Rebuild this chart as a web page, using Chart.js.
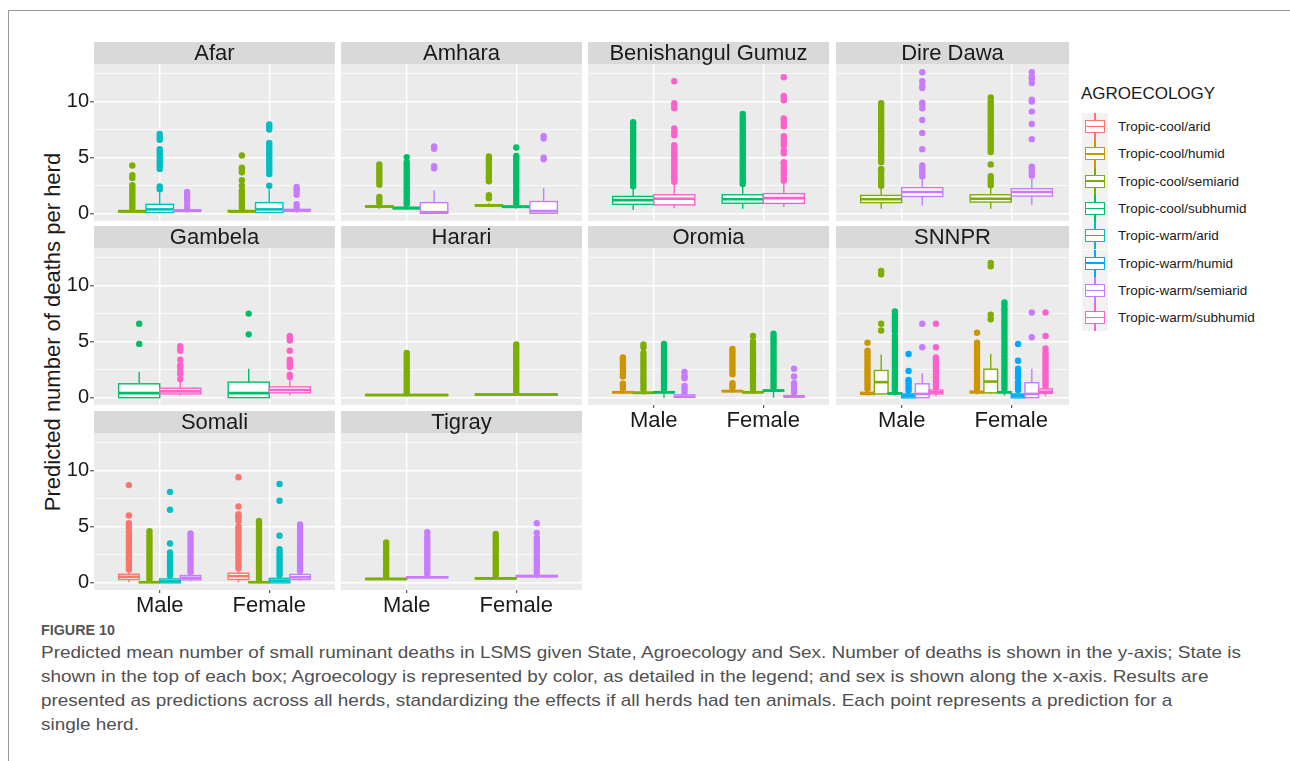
<!DOCTYPE html>
<html>
<head>
<meta charset="utf-8">
<script src="https://cdn.jsdelivr.net/npm/chart.js@4.4.0/dist/chart.umd.min.js"></script>
<style>
body { margin: 0; background: #fff; font-family: "Liberation Sans", Arial, sans-serif; }
#page { position: relative; width: 1290px; height: 761px; overflow: hidden; }
#frame { position: absolute; left: 8px; top: 10px; width: 1400px; height: 900px; border-left: 1px solid #9a9a9a; border-top: 1px solid #9a9a9a; }
#page canvas { position: absolute; }
#ytitle { position: absolute; left: 53px; top: 332px; transform: translate(-50%, -50%) rotate(-90deg); font-size: 22px; white-space: nowrap; color: #1a1a1a; }
.ltitle { position: absolute; left: 1081px; top: 84px; font-size: 17px; color: #1a1a1a; }
.key { position: absolute; left: 1082px; width: 26px; height: 27.3px; background: #f2f2f2; }
.wh { position: absolute; left: 12.3px; width: 1.4px; top: 0; bottom: 0; }
.bx { position: absolute; left: 2.5px; width: 18px; top: 7px; height: 11px; border: 1.4px solid; background: #fff; }
.md { position: absolute; left: 0; right: 0; top: 50%; height: 1.6px; margin-top: -0.8px; }
.lab { position: absolute; left: 1118px; height: 27.3px; line-height: 27.3px; font-size: 13.5px; color: #1a1a1a; white-space: nowrap; }
#cap { position: absolute; left: 41px; top: 620px; }
#cap div { white-space: nowrap; transform-origin: 0 50%; width: max-content; }
.fig { font-weight: bold; font-size: 14px; color: #555; height: 21px; line-height: 21px; }
.cl { font-size: 17px; line-height: 24px; height: 24px; color: #505050; }
</style>
</head>
<body>
<div id="page">
  <div id="frame"></div>
  <div id="ytitle">Predicted number of deaths per herd</div>
  <div id="legend"><div class="ltitle">AGROECOLOGY</div></div>
  <div id="cap">
    <div class="fig">FIGURE 10</div>
    <div class="cl">Predicted mean number of small ruminant deaths in LSMS given State, Agroecology and Sex. Number of deaths is shown in the y-axis; State is</div>
    <div class="cl">shown in the top of each box; Agroecology is represented by color, as detailed in the legend; and sex is shown along the x-axis. Results are</div>
    <div class="cl">presented as predictions across all herds, standardizing the effects if all herds had ten animals. Each point represents a prediction for a</div>
    <div class="cl">single herd.</div>
  </div>
</div>
<script>
Chart.defaults.font.family = '"Liberation Sans", Arial, sans-serif';
Chart.defaults.color = '#1a1a1a';

const sexes = ['Male', 'Female'];
const agroecologies = ['Tropic-cool/arid', 'Tropic-cool/humid', 'Tropic-cool/semiarid', 'Tropic-cool/subhumid',
    'Tropic-warm/arid', 'Tropic-warm/humid', 'Tropic-warm/semiarid', 'Tropic-warm/subhumid'];
const agroColors = ['#F8766D', '#CD9600', '#7CAE00', '#00BE67', '#00BFC4', '#00A9FF', '#C77CFF', '#FF61CC'];
const states = ['Afar', 'Amhara', 'Benishangul Gumuz', 'Dire Dawa', 'Gambela', 'Harari', 'Oromia', 'SNNPR', 'Somali', 'Tigray'];
const yTicks = [0, 5, 10];
const yMinorTicks = [2.5, 7.5, 12.5];

// [agroecology, sex, lower whisker, q1, median, q3, upper whisker, outliers]
const afar = [
    [2, 0, 0.1, 0.17, 0.22, 0.3, 0.45, [0.55,0.8,1.05,1.3,1.55,1.8,2.05,2.3,2.55,3.2,3.45,4.3]],
    [4, 0, 0.05, 0.12, 0.4, 0.85, 2.05, [2.2,2.45,4.0,4.25,4.5,4.75,5.0,5.25,5.5,5.75,6.6,6.85,7.1]],
    [6, 0, 0.1, 0.22, 0.28, 0.36, 0.45, [0.55,0.8,1.2,1.45,1.7,1.95]],
    [2, 1, 0.1, 0.17, 0.22, 0.3, 0.45, [0.55,0.8,1.05,1.3,1.55,1.8,2.05,2.5,3.0,3.7,3.95,4.1,5.2]],
    [4, 1, 0.05, 0.12, 0.4, 1.0, 2.2, [2.5,3.55,3.8,4.05,4.3,4.55,4.8,5.05,5.3,5.55,5.8,6.05,6.3,7.5,7.75,7.95]],
    [6, 1, 0.1, 0.25, 0.3, 0.4, 0.5, [0.6,0.85,1.7,1.95,2.2,2.4]]
];
const amhara = [
    [2, 0, 0.45, 0.6, 0.65, 0.72, 0.85, [1.0,1.25,1.5,2.6,2.85,3.1,3.35,3.6,3.85,4.1,4.4]],
    [3, 0, 0.35, 0.45, 0.52, 0.58, 0.75, [0.85,1.1,1.35,1.6,1.85,2.1,2.35,2.6,2.85,3.1,3.35,3.6,3.85,4.1,4.35,4.6,5.05]],
    [6, 0, 0.0, 0.05, 0.15, 1.0, 2.1, [4.05,4.25,5.8,6.0]],
    [2, 1, 0.6, 0.7, 0.75, 0.8, 0.95, [1.4,1.65,2.9,3.15,3.4,3.65,3.9,4.15,4.4,4.65,4.9,5.1]],
    [3, 1, 0.45, 0.58, 0.63, 0.7, 0.85, [0.95,1.2,1.45,1.7,1.95,2.2,2.45,2.7,2.95,3.2,3.45,3.7,3.95,4.2,4.45,4.7,4.95,5.15,5.9]],
    [6, 1, 0.0, 0.05, 0.25, 1.1, 2.3, [4.85,5.0,6.7,6.9]]
];
const benishangul = [
    [3, 0, 0.35, 0.85, 1.22, 1.55, 2.3, [2.45,2.7,2.95,3.2,3.45,3.7,3.95,4.2,4.45,4.7,4.95,5.2,5.45,5.7,5.95,6.2,6.45,6.7,6.95,7.2,7.45,7.7,7.95,8.15]],
    [7, 0, 0.5, 0.8, 1.35, 1.7, 2.7, [2.85,3.1,3.35,3.6,3.85,4.1,4.35,4.6,4.85,5.1,5.35,5.6,5.85,6.1,7.0,7.25,7.6,9.4,9.6,9.85,11.8]],
    [3, 1, 0.45, 0.95, 1.3, 1.7, 2.5, [2.65,2.9,3.15,3.4,3.65,3.9,4.15,4.4,4.65,4.9,5.15,5.4,5.65,5.9,6.15,6.4,6.65,6.9,7.15,7.4,7.65,7.9,8.15,8.4,8.65,8.9]],
    [7, 1, 0.6, 0.93, 1.4, 1.8, 2.8, [2.95,3.2,3.45,3.7,3.95,4.2,4.45,4.6,5.4,5.65,6.1,6.35,6.6,6.9,7.8,8.05,8.3,8.5,10.1,10.3,10.5,12.15]]
];
const direDawa = [
    [2, 0, 0.45, 1.0, 1.3, 1.64, 2.4, [2.5,2.75,3.0,3.3,3.65,3.9,4.0,4.6,4.85,5.1,5.35,5.6,5.85,6.1,6.35,6.6,6.85,7.1,7.35,7.6,7.85,8.1,8.35,8.6,8.85,9.1,9.35,9.6,9.85]],
    [6, 0, 0.75, 1.55, 1.95, 2.33, 3.2, [3.35,3.6,3.85,4.1,4.3,5.76,7.2,8.35,9.4,9.75,9.9,11.2,11.4,11.8,12.6]],
    [2, 1, 0.45, 1.05, 1.35, 1.7, 2.4, [2.55,2.8,3.05,3.35,4.4,5.5,5.75,6.0,6.25,6.5,6.75,7.0,7.25,7.5,7.75,8.0,8.25,8.5,8.75,9.0,9.25,9.5,9.75,10.0,10.35]],
    [6, 1, 0.8, 1.58, 1.95, 2.24, 3.1, [3.4,3.65,3.9,4.2,6.65,8.0,9.1,10.0,10.15,11.65,12.0,12.15,12.6]]
];
const gambela = [
    [3, 0, 0.0, 0.02, 0.42, 1.25, 2.3, [4.8,6.6]],
    [7, 0, 0.2, 0.35, 0.58, 0.86, 1.45, [1.65,2.1,2.35,2.7,2.9,3.4,4.2,4.4,4.6]],
    [3, 1, 0.0, 0.02, 0.42, 1.4, 2.6, [5.65,7.5]],
    [7, 1, 0.2, 0.45, 0.7, 0.98, 1.6, [1.85,2.05,2.75,2.95,3.2,3.4,4.2,5.1,5.3,5.5]]
];
const harari = [
    [2, 0, 0.15, 0.2, 0.25, 0.3, 0.4, [0.5,0.75,1.0,1.25,1.5,1.75,2.0,2.25,2.5,2.75,3.0,3.25,3.5,3.75,4.0]],
    [2, 1, 0.2, 0.25, 0.3, 0.35, 0.45, [0.55,0.8,1.05,1.3,1.55,1.8,2.05,2.3,2.55,2.8,3.05,3.3,3.55,3.8,4.05,4.3,4.55,4.75]]
];
const oromia = [
    [1, 0, 0.35, 0.45, 0.5, 0.55, 0.7, [0.8,1.05,1.25,1.9,2.15,2.4,2.65,2.9,3.15,3.4,3.6]],
    [2, 0, 0.3, 0.4, 0.45, 0.5, 0.65, [0.75,1.0,1.25,1.5,1.75,2.0,2.25,2.5,2.75,3.0,3.25,3.5,3.75,4.0,4.5,4.75]],
    [3, 0, 0.0, 0.45, 0.5, 0.55, 0.7, [0.8,1.05,1.3,1.55,1.8,2.05,2.3,2.55,2.8,3.05,3.3,3.55,3.8,4.05,4.3,4.55,4.8]],
    [6, 0, 0.0, 0.05, 0.1, 0.27, 0.45, [0.55,0.8,1.05,1.75,1.95,2.3]],
    [1, 1, 0.45, 0.55, 0.6, 0.65, 0.8, [0.9,1.1,1.3,2.1,2.35,2.6,2.85,3.1,3.35,3.6,3.85,4.1,4.35]],
    [2, 1, 0.35, 0.45, 0.5, 0.55, 0.7, [0.8,1.05,1.3,1.55,1.8,2.05,2.3,2.55,2.8,3.05,3.3,3.55,3.8,4.05,4.3,4.55,4.8,5.0,5.5]],
    [3, 1, 0.0, 0.6, 0.65, 0.7, 0.85, [0.95,1.2,1.45,1.7,1.95,2.2,2.45,2.7,2.95,3.2,3.45,3.7,3.95,4.2,4.45,4.7,4.95,5.2,5.45,5.7]],
    [6, 1, 0.0, 0.08, 0.12, 0.2, 0.4, [0.5,0.75,1.0,1.3,1.9,2.6]]
];
const snnpr = [
    [1, 0, 0.2, 0.3, 0.4, 0.5, 0.7, [0.8,1.05,1.3,1.55,1.8,2.05,2.3,2.55,2.8,3.05,3.3,3.55,3.8,4.05,4.2,4.9]],
    [2, 0, 0.3, 0.35, 1.4, 2.44, 3.85, [6.0,6.6,11.0,11.3]],
    [3, 0, 0.2, 0.35, 0.4, 0.45, 0.6, [0.7,0.95,1.2,1.45,1.7,1.95,2.2,2.45,2.7,2.95,3.2,3.45,3.7,3.95,4.2,4.45,4.7,4.95,5.2,5.5,5.9,6.15,6.4,6.65,6.9,7.15,7.4,7.7]],
    [5, 0, 0.0, 0.0, 0.2, 0.35, 0.55, [0.65,0.9,1.15,1.4,1.6,2.4,3.9]],
    [6, 0, 0.0, 0.02, 0.35, 1.25, 2.2, [4.5,6.6]],
    [7, 0, 0.15, 0.35, 0.5, 0.7, 0.85, [0.95,1.2,1.45,1.7,1.95,2.2,2.45,2.7,2.95,3.2,3.45,3.6,4.5,6.6]],
    [1, 1, 0.3, 0.45, 0.5, 0.6, 0.75, [0.85,1.1,1.35,1.6,1.85,2.1,2.35,2.6,2.85,3.1,3.35,3.6,3.85,4.1,4.35,4.6,4.9,5.8]],
    [2, 1, 0.35, 0.45, 1.45, 2.55, 3.9, [7.0,7.4,11.7,12.0]],
    [3, 1, 0.2, 0.45, 0.5, 0.55, 0.7, [0.8,1.05,1.3,1.55,1.8,2.05,2.3,2.55,2.8,3.05,3.3,3.55,3.8,4.05,4.3,4.55,4.8,5.05,5.3,5.55,5.8,6.05,6.3,6.55,6.8,7.05,7.3,7.55,7.8,8.0,8.3,8.5]],
    [5, 1, 0.0, 0.0, 0.2, 0.35, 0.55, [0.7,0.95,1.2,1.4,1.8,2.05,2.3,2.6,3.3,4.8]],
    [6, 1, 0.0, 0.02, 0.35, 1.35, 2.6, [5.4,7.6]],
    [7, 1, 0.15, 0.4, 0.55, 0.8, 0.95, [1.05,1.3,1.55,1.8,2.05,2.3,2.55,2.8,3.05,3.3,3.55,3.8,4.05,4.4,5.5,7.6]]
];
const somali = [
    [0, 0, 0.05, 0.3, 0.54, 0.77, 1.1, [1.2,1.45,1.7,1.95,2.2,2.45,2.7,2.95,3.2,3.45,3.7,3.95,4.2,4.5,4.9,5.1,5.3,6.0,8.7]],
    [2, 0, 0.0, 0.03, 0.06, 0.1, 0.2, [0.3,0.55,0.8,1.05,1.3,1.55,1.8,2.05,2.3,2.55,2.8,3.05,3.3,3.55,3.8,4.05,4.3,4.6]],
    [4, 0, 0.0, 0.0, 0.15, 0.35, 0.55, [0.65,0.9,1.15,1.4,1.65,1.9,2.15,2.4,2.7,3.5,6.5,8.1]],
    [6, 0, 0.15, 0.27, 0.45, 0.65, 0.85, [0.95,1.2,1.45,1.7,1.95,2.2,2.45,2.7,2.95,3.2,3.45,3.7,3.95,4.2,4.4]],
    [0, 1, 0.05, 0.3, 0.6, 0.86, 1.2, [1.3,1.55,1.8,2.05,2.3,2.55,2.8,3.05,3.3,3.55,3.8,4.05,4.3,4.55,4.8,5.0,5.5,5.7,5.9,6.1,6.8,9.4]],
    [2, 1, 0.0, 0.03, 0.06, 0.1, 0.2, [0.3,0.55,0.8,1.05,1.3,1.55,1.8,2.05,2.3,2.55,2.8,3.05,3.3,3.55,3.8,4.05,4.3,4.55,4.8,5.05,5.3,5.5]],
    [4, 1, 0.0, 0.0, 0.2, 0.4, 0.6, [0.7,0.95,1.2,1.45,1.7,1.95,2.2,2.45,2.7,3.0,4.2,7.3,8.8]],
    [6, 1, 0.2, 0.3, 0.5, 0.75, 0.95, [1.05,1.3,1.55,1.8,2.05,2.3,2.55,2.8,3.05,3.3,3.55,3.8,4.05,4.3,4.55,4.8,5.0,5.2]]
];
const tigray = [
    [2, 0, 0.25, 0.3, 0.35, 0.4, 0.5, [0.6,0.85,1.1,1.35,1.6,1.85,2.1,2.35,2.6,2.85,3.1,3.35,3.6]],
    [6, 0, 0.35, 0.45, 0.5, 0.55, 0.7, [0.8,1.05,1.3,1.55,1.8,2.05,2.3,2.55,2.8,3.05,3.3,3.55,3.8,4.1,4.5]],
    [2, 1, 0.3, 0.35, 0.4, 0.45, 0.55, [0.65,0.9,1.15,1.4,1.65,1.9,2.15,2.4,2.65,2.9,3.15,3.4,3.65,3.9,4.15,4.35]],
    [6, 1, 0.4, 0.55, 0.6, 0.65, 0.8, [0.9,1.15,1.4,1.65,1.9,2.15,2.4,2.65,2.9,3.15,3.4,3.65,3.9,4.0,4.45,5.3]]
];
const stateBoxes = [afar, amhara, benishangul, direDawa, gambela, harari, oromia, snnpr, somali, tigray];

// panel geometry (pixels)
const colLeft = [94, 341, 588, 836];
const colWidth = [241, 241, 241, 233];
const rowTop = [64, 248, 433];
const panelH = 157;
const stripH = 22;
const unitPx = 241 / 2.2;

const page = document.getElementById('page');

function makePanel(i) {
    const row = Math.floor(i / 4), col = i % 4;
    const rows = stateBoxes[i];
    const showY = col === 0, showX = i >= 6;
    const axisW = showY ? 50 : 0, axisH = showX ? 36 : 0;

    const canvas = document.createElement('canvas');
    canvas.width = colWidth[col] + axisW;
    canvas.height = stripH + panelH + axisH;
    canvas.style.left = (colLeft[col] - axisW) + 'px';
    canvas.style.top = (rowTop[row] - stripH) + 'px';
    page.appendChild(canvas);

    // dodge: boxes of each sex share 0.75 of a category
    const groups = [...new Set(rows.map(r => r[0]))].sort((a, b) => a - b);
    const slot = 0.75 / groups.length;
    const xOf = r => r[1] + 1 - 0.375 + (groups.indexOf(r[0]) + 0.5) * slot;

    const datasets = groups.map(g => ({
        label: agroecologies[g],
        data: rows.filter(r => r[0] === g).flatMap(r => r[7].map(v => ({ x: xOf(r), y: v }))),
        backgroundColor: agroColors[g],
        borderWidth: 0,
        pointRadius: 3.2
    }));

    const panelPlugin = {
        id: 'panel',
        beforeDraw(chart) {
            const ctx = chart.ctx, a = chart.chartArea;
            ctx.save();
            ctx.fillStyle = '#EBEBEB';
            ctx.fillRect(a.left, a.top, a.right - a.left, a.bottom - a.top);
            ctx.fillStyle = '#D9D9D9';
            ctx.fillRect(a.left, a.top - stripH, a.right - a.left, stripH);
            ctx.fillStyle = '#1a1a1a';
            ctx.font = '22px "Liberation Sans", Arial, sans-serif';
            ctx.textAlign = 'center';
            ctx.textBaseline = 'middle';
            ctx.fillText(states[i], (a.left + a.right) / 2, a.top - stripH / 2 + 1);
            ctx.restore();
        },
        beforeDatasetsDraw(chart) {
            const ctx = chart.ctx, xs = chart.scales.x, ys = chart.scales.y;
            ctx.save();
            rows.forEach(r => {
                const cx = xs.getPixelForValue(xOf(r));
                const half = xs.getPixelForValue(xOf(r) + slot / 2) - cx;
                const [g, , lo, q1, med, q3, hi] = r;
                ctx.strokeStyle = agroColors[g];
                ctx.lineWidth = 1.4;
                ctx.beginPath();
                ctx.moveTo(cx, ys.getPixelForValue(hi));
                ctx.lineTo(cx, ys.getPixelForValue(q3));
                ctx.moveTo(cx, ys.getPixelForValue(q1));
                ctx.lineTo(cx, ys.getPixelForValue(lo));
                ctx.stroke();
                const top = ys.getPixelForValue(q3), bot = ys.getPixelForValue(q1);
                ctx.fillStyle = '#fff';
                ctx.fillRect(cx - half, top, 2 * half, bot - top);
                ctx.strokeRect(cx - half, top, 2 * half, bot - top);
                ctx.lineWidth = 2.6;
                ctx.beginPath();
                ctx.moveTo(cx - half, ys.getPixelForValue(med));
                ctx.lineTo(cx + half, ys.getPixelForValue(med));
                ctx.stroke();
            });
            ctx.restore();
        }
    };

    new Chart(canvas, {
        type: 'scatter',
        data: { datasets },
        options: {
            responsive: false,
            animation: false,
            devicePixelRatio: 1,
            events: [],
            layout: { autoPadding: false, padding: { top: stripH, left: 0, right: 0, bottom: 0 } },
            plugins: { legend: { display: false }, tooltip: { enabled: false } },
            scales: {
                x: {
                    type: 'linear',
                    min: 0.4,
                    max: 0.4 + colWidth[col] / unitPx,
                    afterBuildTicks: s => { s.ticks = sexes.map((_, k) => ({ value: k + 1 })); },
                    afterFit: s => { s.height = axisH; s.paddingLeft = 0; s.paddingRight = 0; },
                    border: { display: false },
                    grid: { color: '#fff', lineWidth: 1.4, drawTicks: showX, tickLength: 3, tickColor: '#333', tickWidth: 1 },
                    ticks: {
                        display: showX, padding: 0, maxRotation: 0, autoSkip: false,
                        color: '#1a1a1a', font: { size: 22 },
                        callback: v => sexes[v - 1]
                    }
                },
                y: {
                    type: 'linear',
                    min: -0.635,
                    max: 13.335,
                    afterBuildTicks: s => {
                        s.ticks = yTicks.concat(yMinorTicks).sort((a, b) => a - b).map(v => ({ value: v }));
                    },
                    afterFit: s => { s.width = axisW; s.paddingTop = 0; s.paddingBottom = 0; },
                    border: { display: false },
                    grid: {
                        color: '#fff',
                        lineWidth: c => (c.tick && yTicks.includes(c.tick.value)) ? 1.6 : 0.7,
                        drawTicks: showY, tickLength: 4, tickWidth: 1,
                        tickColor: c => (c.tick && yTicks.includes(c.tick.value)) ? '#333' : 'rgba(0,0,0,0)'
                    },
                    ticks: {
                        display: showY, padding: 1, autoSkip: false,
                        color: '#1a1a1a', font: { size: 20 },
                        callback: v => yTicks.includes(v) ? String(v) : ''
                    }
                }
            }
        },
        plugins: [panelPlugin]
    });
}

states.forEach((_, i) => makePanel(i));

// legend
const legend = document.getElementById('legend');
agroecologies.forEach((name, i) => {
    const top = 113 + i * 27.3;
    const c = agroColors[i];
    legend.insertAdjacentHTML('beforeend',
        `<div class="key" style="top:${top}px"><div class="wh" style="background:${c}"></div>` +
        `<div class="bx" style="border-color:${c}"><div class="md" style="background:${c}"></div></div></div>` +
        `<div class="lab" style="top:${top}px">${name}</div>`);
});

// caption: squeeze to the narrow face of the original
const lines = document.querySelectorAll('#cap .cl');
const k = 1200 / lines[0].getBoundingClientRect().width;
lines.forEach(l => { l.style.transform = `scaleX(${k})`; });
const fig = document.querySelector('#cap .fig');
fig.style.transform = `scaleX(${74 / fig.getBoundingClientRect().width})`;
</script>
</body>
</html>
